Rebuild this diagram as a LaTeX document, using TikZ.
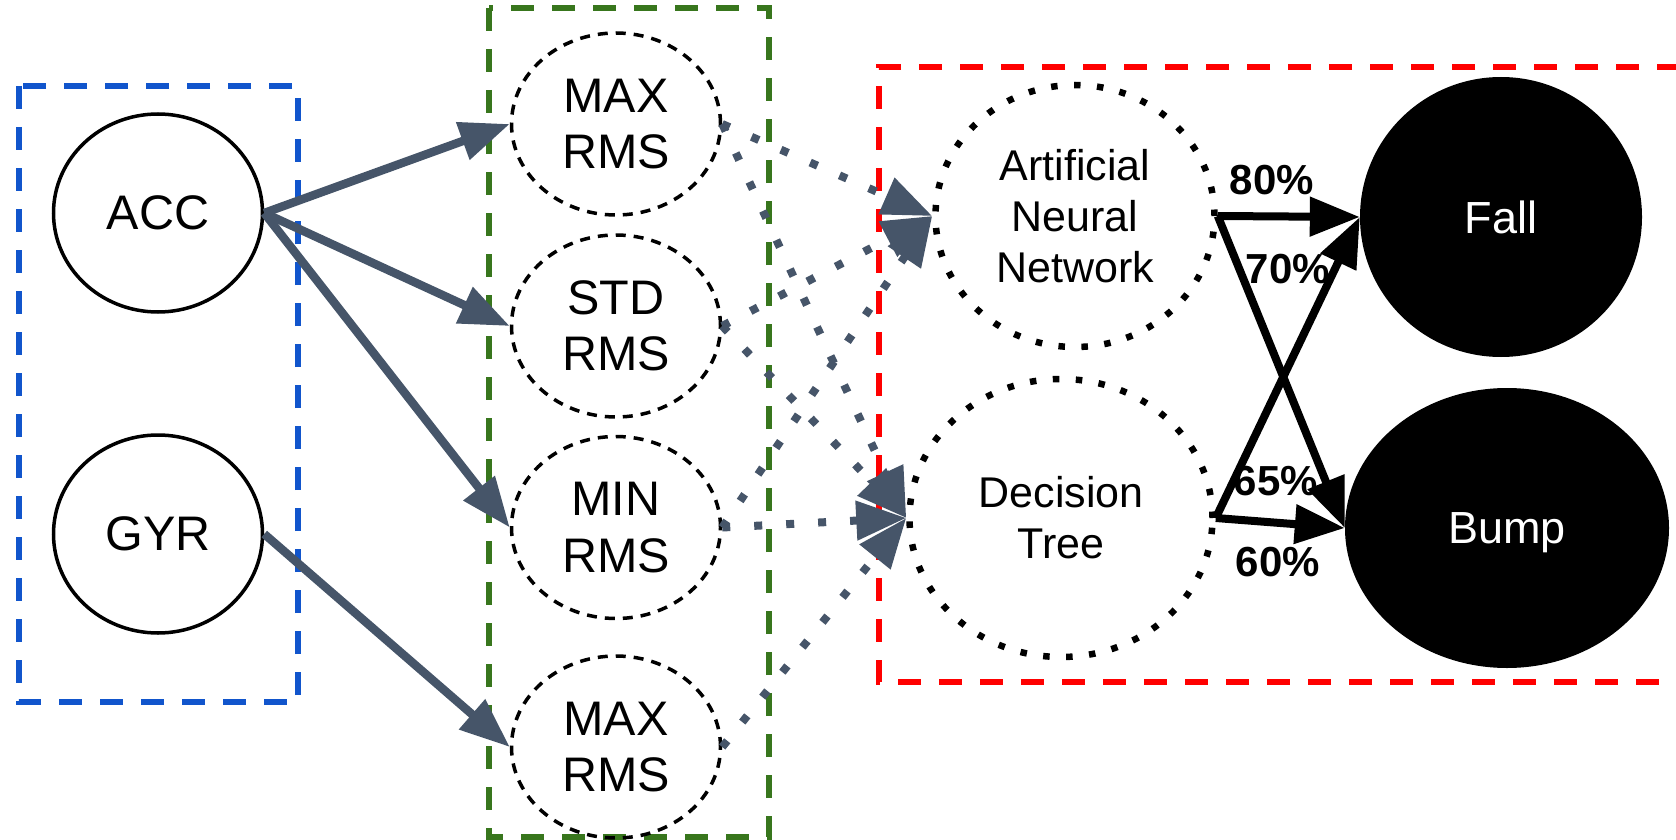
\documentclass[tikz,border=0pt]{standalone}
\usepackage{fontspec}
\setmainfont{Liberation Sans}
\usetikzlibrary{shapes.geometric,arrows.meta}
\definecolor{boxblue}{HTML}{1155CC}
\definecolor{boxgreen}{HTML}{38761D}
\definecolor{boxred}{HTML}{FF0000}
\definecolor{slate}{HTML}{465569}

\begin{document}
\begin{tikzpicture}[x=1pt,y=-1pt,
  oval/.style={ellipse, inner sep=0pt, align=center},
  sensor/.style={oval, draw=black, line width=3.5pt, minimum width=209pt, minimum height=198pt,
    font=\fontsize{48.5}{57}\selectfont},
  feature/.style={oval, draw=black, line width=3.5pt, dash pattern=on 10pt off 8pt,
    minimum width=209pt, minimum height=182pt, font=\fontsize{48.5}{56.5}\selectfont},
  model/.style={oval, draw=black, line width=6.5pt, dash pattern=on 6.5pt off 16.5pt,
    font=\fontsize{43}{51}\selectfont},
  outcome/.style={oval, fill=black, text=white, minimum height=280pt, text depth=0pt,
    font=\fontsize{45}{50}\selectfont},
  group/.style={line width=5.5pt, dash pattern=on 23pt off 18pt},
  tip/.style={-{Triangle[length=50pt,width=38pt]}},
  feed/.style={draw=slate, line width=8.5pt, tip},
  vote/.style={draw=slate, line width=8pt, dash pattern=on 8pt off 24pt, tip},
  predict/.style={draw=black, line width=8pt, tip},
  pct/.style={font=\fontsize{42}{48}\bfseries\selectfont, inner sep=0pt}
]
\useasboundingbox (0,0) rectangle (1676,840);

% group frames
\draw[group, boxblue] (19,86) rectangle (298,702);
\draw[group, boxgreen] (489,8) rectangle (769,837);
\draw[group, boxred] (1680,67) -- (879,67) -- (879,682) -- (1680,682);

% sensors
\node[sensor] (acc) at (158,213) {ACC};
\node[sensor] (gyr) at (158,534) {GYR};

% features
\node[feature] (max1) at (616,124) {MAX\\RMS};
\node[feature] (std)  at (616,326) {STD\\RMS};
\node[feature] (min)  at (616,527.5) {MIN\\RMS};
\node[feature] (max2) at (616,747) {MAX\\RMS};

% classifiers
\node[model, minimum width=279pt, minimum height=262pt] (ann) at (1075,216) {Artificial\\Neural\\Network};
\node[model, minimum width=303pt, minimum height=278pt] (dt) at (1061,518) {Decision\\Tree};

% outcomes
\node[outcome, minimum width=282pt] (fall) at (1501,217) {Fall};
\node[outcome, minimum width=324pt] (bump) at (1507,528) {Bump};

% sensor -> feature
\draw[feed] (acc.east) -- (max1.west);
\draw[feed] (acc.east) -- (std.west);
\draw[feed] (acc.east) -- (min.west);
\draw[feed] (gyr.east) -- (max2.west);

% feature -> classifier
\draw[vote] (max1.east) -- (ann.west);
\draw[vote] (std.east) -- (ann.west);
\draw[vote] (min.east) -- (ann.west);
\draw[vote] (max1.east) -- (dt.west);
\draw[vote] (std.east) -- (dt.west);
\draw[vote] (min.east) -- (dt.west);
\draw[vote] (max2.east) -- (dt.west);

% classifier -> outcome
\draw[predict] (ann.east) -- (fall.west);
\draw[predict] (ann.east) -- (bump.west);
\draw[predict] (dt.east) -- (fall.west);
\draw[predict] (dt.east) -- (bump.west);

% accuracies
\node[pct] (p80) at (1272,180) {80\%};
\node[pct] (p70) at (1288,269) {70\%};
\node[pct] (p65) at (1276,481) {65\%};
\node[pct] (p60) at (1278,562) {60\%};
\end{tikzpicture}
\end{document}
